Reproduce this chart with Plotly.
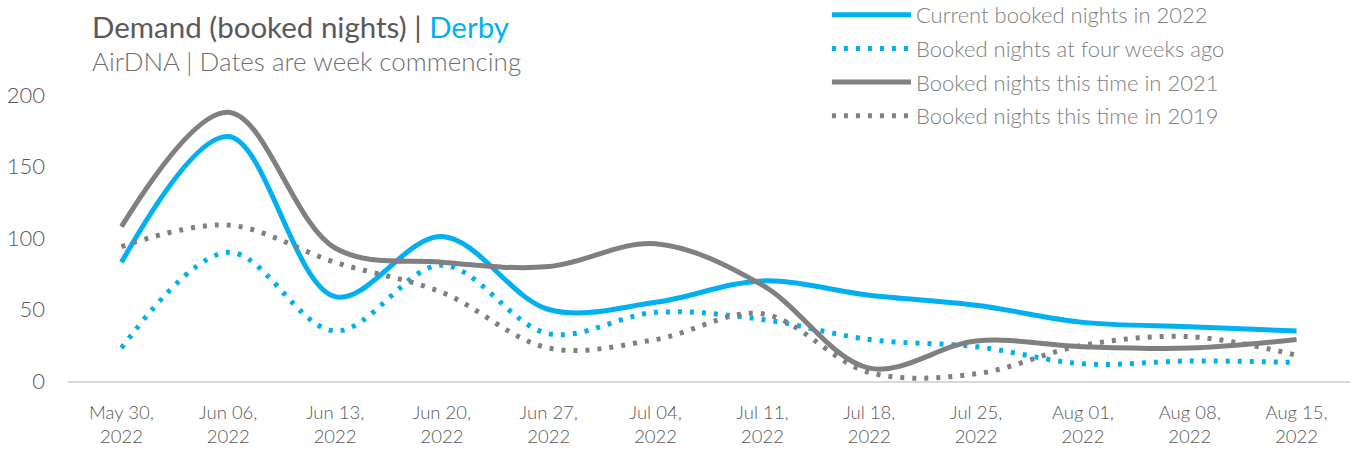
import plotly.graph_objects as go

weeks = ["May 30,<br>2022", "Jun 06,<br>2022", "Jun 13,<br>2022", "Jun 20,<br>2022",
         "Jun 27,<br>2022", "Jul 04,<br>2022", "Jul 11,<br>2022", "Jul 18,<br>2022",
         "Jul 25,<br>2022", "Aug 01,<br>2022", "Aug 08,<br>2022", "Aug 15,<br>2022"]

current_2022 = [83, 171, 59, 101, 50, 55, 70, 60, 53, 41, 38, 35]
four_weeks_ago = [23, 90, 35, 81, 33, 48, 43, 29, 24, 12, 14, 13]
this_time_2021 = [108, 188, 93, 83, 80, 96, 67, 9, 28, 24, 23, 29]
this_time_2019 = [94, 109, 83, 62, 23, 29, 47, 6, 5, 25, 31, 18]

names = ["Current booked nights in 2022", "Booked nights at four weeks ago",
         "Booked nights this time in 2021", "Booked nights this time in 2019"]

BLUE = "#00B0F0"
GREY = "#808080"
TXT = "#595959"
FONT = "Lato"

series = [
    (names[0], current_2022, BLUE, "solid"),
    (names[1], four_weeks_ago, BLUE, "4px,8px"),
    (names[2], this_time_2021, GREY, "solid"),
    (names[3], this_time_2019, GREY, "4px,8px"),
]

fig = go.Figure()
for i, (nm, vals, col, dash) in enumerate(series):
    fig.add_trace(go.Scatter(
        x=weeks, y=vals, name=nm, mode="lines", legendgroup=str(i),
        line=dict(color=col, width=5, dash=dash, shape="spline", smoothing=1),
        cliponaxis=False,
    ))

fig.update_layout(
    width=1357, height=456,
    margin=dict(l=67.5, r=6.5, t=95, b=75, autoexpand=False),
    paper_bgcolor="white", plot_bgcolor="white",
    font=dict(family=FONT, color=TXT, size=18),
    showlegend=True,
    legend=dict(x=0.592, y=1.353, xanchor="left", yanchor="top",
                font=dict(size=22, color="#808080", family=FONT, weight=300),
                bgcolor="rgba(0,0,0,0)", tracegroupgap=2, itemwidth=79,
                traceorder="grouped"),
    xaxis=dict(type="category", range=[-0.5, 11.5], showgrid=False,
               showline=True, linecolor="#D9D9D9", linewidth=2, automargin=False,
               ticks="", tickfont=dict(size=18.5, color=TXT, family=FONT, weight=300),
               ticklabelstandoff=14, zeroline=False),
    yaxis=dict(range=[0, 200], tickvals=[0, 50, 100, 150, 200], showgrid=False,
               showline=False, zeroline=False, ticks="", automargin=False,
               tickfont=dict(size=22, color=TXT, weight=300), ticklabelstandoff=22),
    annotations=[
        dict(xref="paper", yref="paper", x=0.0175, y=1.239, xanchor="left", yanchor="middle",
             showarrow=False,
             text="Demand (booked nights) <span style='color:#595959'>|</span> <span style='color:#00B0F0'>Derby</span>",
             font=dict(size=29.5, color=TXT, family=FONT)),
        dict(xref="paper", yref="paper", x=0.0175, y=1.118, xanchor="left", yanchor="middle",
             showarrow=False, text="AirDNA | Dates are week commencing",
             font=dict(size=26, color="#6F6F6F", family=FONT, weight=300)),
    ],
)

fig.write_html("out.html", config={"displayModeBar": False},
               post_script="document.body.style.margin='0px';")
